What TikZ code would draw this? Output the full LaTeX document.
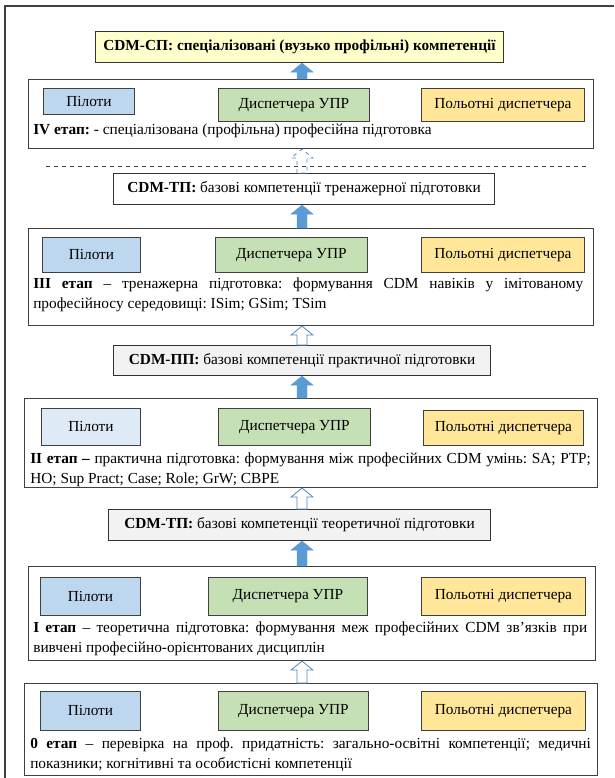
\documentclass[tikz,border=0pt]{standalone}
\usepackage{fontspec}
\setmainfont{Liberation Serif}
\usetikzlibrary{calc, positioning}

\definecolor{pilot}{HTML}{BDD7EE}
\definecolor{pilotpale}{HTML}{DEEBF7}
\definecolor{disp}{HTML}{C5E0B4}
\definecolor{flight}{HTML}{FFE699}
\definecolor{cdmyellow}{HTML}{FFFFCC}
\definecolor{cdmgray}{HTML}{F2F2F2}
\definecolor{arrowblue}{HTML}{5B9BD5}
\definecolor{arrowedge}{HTML}{4F88C2}

\hyphenpenalty=10000
\exhyphenpenalty=10000
\frenchspacing

% block arrow from #2 (lower box) up to #3 (upper box), on the common axis
\def\shaft{3.75pt}
\def\headw{8.25pt}
\def\headlen{6.75pt}
\newcommand{\stagearrow}[3][]{%
	\draw[#1] let \p1=(axis |- #2.north), \p2=(axis |- #3.south) in
	(\x1-\shaft,\y1) -- (\x1-\shaft,\y2-\headlen) -- (\x1-\headw,\y2-\headlen)
	-- (\x2,\y2) -- (\x1+\headw,\y2-\headlen) -- (\x1+\shaft,\y2-\headlen)
	-- (\x1+\shaft,\y1) -- cycle;}

\begin{document}
\begin{tikzpicture}[x=0.75pt, y=-0.75pt,
	font=\fontsize{11.5}{14.5}\selectfont,
	sized/.style 2 args={minimum width=#1*0.75pt, minimum height=#2*0.75pt},
	stagebox/.style={draw=black!75, line width=0.8pt, anchor=north west, inner sep=0pt},
	rolebox/.style={draw=black!75, line width=0.7pt, anchor=north west, inner sep=0pt},
	cdmbox/.style={draw=black!80, line width=0.8pt, anchor=north west, inner sep=0pt},
	stagetext/.style={anchor=north west, inner sep=0pt, text width=#1, align=justify},
	fullarrow/.style={fill=arrowblue, draw=arrowblue, line width=0.3pt},
	hollowarrow/.style={fill=white, draw=arrowedge, line width=0.6pt},
	]
	
	% -------------------------------------------------------------------------
	% 0. Canvas and outer frame (right and bottom edges cut off)
	% -------------------------------------------------------------------------
	\useasboundingbox (0,0) rectangle (614,778);
	\draw[black!75, line width=1.3pt] (5,778) |- (614,6);
	\coordinate (axis) at (302,0);
	
	% -------------------------------------------------------------------------
	% 1. CDM-SP and stage IV
	% -------------------------------------------------------------------------
	\node[cdmbox, fill=cdmyellow, sized={408}{31}] (cdmsp) at (95,31)
	{\textbf{CDM-СП: спеціалізовані (вузько профільні) компетенції}};
	
	\node[stagebox, sized={565}{69}] (s4) at (28,79) {};
	\node[rolebox, fill=pilot, sized={91}{26}] (p4) at (43,88) {Пілоти};
	\node[rolebox, fill=disp, sized={151}{33}] (d4) at (218,88) {Диспетчера УПР};
	\node[rolebox, fill=flight, sized={163}{33}] (f4) at (421,88) {Польотні диспетчера};
	\node[stagetext=413pt] (t4) at (33,124)
	{\textbf{IV етап:} - спеціалізована (профільна) професійна підготовка};
	
	\stagearrow[fullarrow]{s4}{cdmsp}
	
	% -------------------------------------------------------------------------
	% 2. CDM-TP (trainer) and stage III
	% -------------------------------------------------------------------------
	\node[cdmbox, fill=white, sized={381}{31}] (tren) at (113,173)
	{\textbf{CDM-ТП:} базові компетенції тренажерної підготовки};
	\stagearrow[hollowarrow, dashed]{tren}{s4}
	\draw[dashed, black!75, line width=0.7pt] (46,166) -- (588,166);
	
	\node[stagebox, sized={565}{97}] (s3) at (28,228) {};
	\node[rolebox, fill=pilot, sized={98}{35}] (p3) at (42,237) {Пілоти};
	\node[rolebox, fill=disp, sized={152}{35}] (d3) at (215,237) {Диспетчера УПР};
	\node[rolebox, fill=flight, sized={163}{35}] (f3) at (421,237) {Польотні диспетчера};
	\node[stagetext=412.5pt] (t3) at (33,278)
	{\textbf{III етап} – тренажерна підготовка: формування CDM навіків у імітованому\linebreak
		професійносу середовищі: ISim; GSim; TSim};
	
	\stagearrow[fullarrow]{s3}{tren}
	
	% -------------------------------------------------------------------------
	% 3. CDM-PP and stage II
	% -------------------------------------------------------------------------
	\node[cdmbox, fill=cdmgray, sized={377}{30}] (pp) at (113,345)
	{\textbf{CDM-ПП:} базові компетенції практичної підготовки};
	\stagearrow[hollowarrow]{pp}{s3}
	
	\node[stagebox, sized={573}{89}] (s2) at (24,398) {};
	\node[rolebox, fill=pilotpale, sized={99}{37}] (p2) at (41,408) {Пілоти};
	\node[rolebox, fill=disp, sized={152}{37}] (d2) at (218,408) {Диспетчера УПР};
	\node[rolebox, fill=flight, sized={160}{35}] (f2) at (423,410) {Польотні диспетчера};
	\node[stagetext=420.5pt] (t2) at (30,453)
	{\textbf{II етап –} практична підготовка: формування між професійних CDM умінь: SA; PTP;\linebreak
		HO; Sup Pract; Case; Role; GrW; CBPE};
	
	\stagearrow[fullarrow]{s2}{pp}
	
	% -------------------------------------------------------------------------
	% 4. CDM-TP (theory) and stage I
	% -------------------------------------------------------------------------
	\node[cdmbox, fill=cdmgray, sized={382}{31}] (tp) at (108,509)
	{\textbf{CDM-ТП:} базові компетенції теоретичної підготовки};
	\stagearrow[hollowarrow]{tp}{s2}
	
	\node[stagebox, sized={567}{94}] (s1) at (28,566) {};
	\node[rolebox, fill=pilot, sized={100}{38}] (p1) at (40,577) {Пілоти};
	\node[rolebox, fill=disp, sized={159}{38}] (d1) at (208,577) {Диспетчера УПР};
	\node[rolebox, fill=flight, sized={164}{38}] (f1) at (421,577) {Польотні диспетчера};
	\node[stagetext=415.5pt] (t1) at (33,622)
	{\textbf{I етап} – теоретична підготовка: формування меж професійних CDM зв’язків при\linebreak
		вивчені професійно-орієнтованих дисциплін};
	
	\stagearrow[fullarrow]{s1}{tp}
	
	% -------------------------------------------------------------------------
	% 5. Stage 0
	% -------------------------------------------------------------------------
	\node[stagebox, sized={573}{92}] (s0) at (24,683) {};
	\node[rolebox, fill=pilot, sized={100}{39}] (p0) at (40,691) {Пілоти};
	\node[rolebox, fill=disp, sized={150}{39}] (d0) at (218,691) {Диспетчера УПР};
	\node[rolebox, fill=flight, sized={164}{39}] (f0) at (421,691) {Польотні диспетчера};
	\node[stagetext=420.5pt] (t0) at (30,738)
	{\textbf{0 етап} – перевірка на проф. придатність: загально-освітні компетенції; медичні\linebreak
		показники; когнітивні та особистісні компетенції};
	
	\stagearrow[hollowarrow]{s0}{s1}
	
\end{tikzpicture}
\end{document}
